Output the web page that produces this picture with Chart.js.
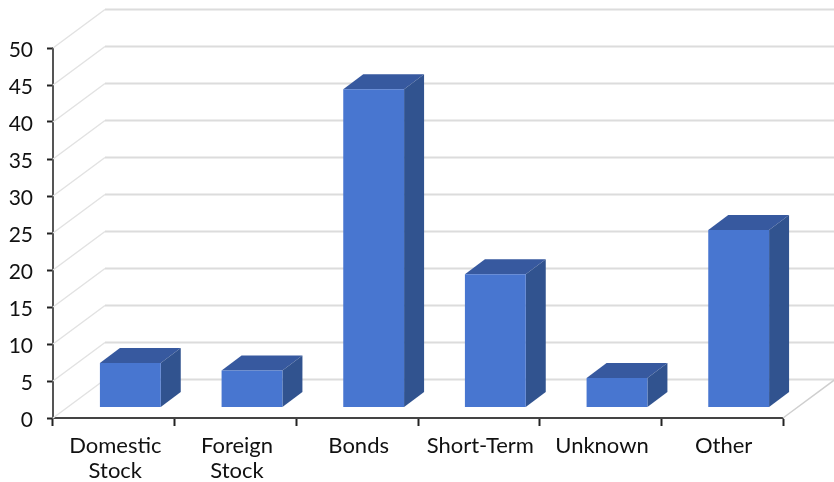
<!DOCTYPE html>
<html>
<head>
<meta charset="utf-8">
<title>Holdings</title>
<script src="https://cdn.jsdelivr.net/npm/chart.js@4"></script>
<style>
  html, body { margin: 0; padding: 0; background: #fff; }
  canvas { display: block; }
</style>
</head>
<body>
<canvas id="myChart" width="834" height="482"></canvas>
<script>
const categories = [['Domestic', 'Stock'], ['Foreign', 'Stock'], 'Bonds', 'Short-Term', 'Unknown', 'Other'];
const values = [6, 5, 43, 18, 4, 24];
const tickValues = [0, 5, 10, 15, 20, 25, 30, 35, 40, 45, 50];

// depth of the fake 3D box
const WALL_DX = 52, WALL_DY = -38.5;
const BAR_DX = 16.5, BAR_DY = -10.5;
const SIDE_DX = 20, SIDE_DY = -15;

const fontName = 'Lato, "Open Sans", sans-serif';
const textColor = '#111';

function line(ctx, x1, y1, x2, y2) {
    ctx.beginPath();
    ctx.moveTo(x1, y1);
    ctx.lineTo(x2, y2);
    ctx.stroke();
}

function poly(ctx, pts, color) {
    ctx.fillStyle = color;
    ctx.beginPath();
    pts.forEach((p, i) => i ? ctx.lineTo(p[0], p[1]) : ctx.moveTo(p[0], p[1]));
    ctx.closePath();
    ctx.fill();
}

const box3d = {
    id: 'box3d',
    beforeDatasetsDraw(chart) {
        const { ctx, chartArea: a, scales: { y } } = chart;
        ctx.save();
        tickValues.forEach(v => {
            const py = y.getPixelForValue(v);
            // side wall / floor diagonal, then the back wall line
            ctx.lineWidth = 1.5;
            ctx.strokeStyle = '#e2e2e2';
            line(ctx, a.left, py, a.left + WALL_DX, py + WALL_DY);
            ctx.lineWidth = 2;
            ctx.strokeStyle = '#dcdcdc';
            line(ctx, a.left + WALL_DX, py + WALL_DY, a.right + WALL_DX, py + WALL_DY);
        });
        ctx.lineWidth = 1.5;
        ctx.strokeStyle = '#cfcfcf';
        line(ctx, a.right, a.bottom, a.right + WALL_DX, a.bottom + WALL_DY);
        ctx.restore();
    },
    beforeDatasetDraw(chart, args) {
        const { ctx } = chart;
        ctx.save();
        ctx.translate(BAR_DX, BAR_DY);
        args.meta.data.forEach(bar => {
            const l = bar.x - bar.width / 2, r = bar.x + bar.width / 2;
            poly(ctx, [[l, bar.y], [r, bar.y], [r + SIDE_DX, bar.y + SIDE_DY], [l + SIDE_DX, bar.y + SIDE_DY]], '#37599f');
            poly(ctx, [[r, bar.y], [r + SIDE_DX, bar.y + SIDE_DY], [r + SIDE_DX, bar.base + SIDE_DY], [r, bar.base]], '#31538f');
        });
    },
    afterDatasetDraw(chart) {
        chart.ctx.restore();
    }
};

new Chart(document.getElementById('myChart'), {
    type: 'bar',
    data: {
        labels: categories,
        datasets: [{
            data: values,
            backgroundColor: '#4876d0',
            borderWidth: 0,
            clip: false,
            barPercentage: 0.5,
            categoryPercentage: 1
        }]
    },
    options: {
        responsive: false,
        animation: false,
        layout: { padding: { top: 48, right: 51, left: 0, bottom: 0 } },
        plugins: { legend: { display: false }, tooltip: { enabled: false } },
        scales: {
            x: {
                afterFit: s => { s.height = 64; },
                grid: { drawOnChartArea: false, tickLength: 8, tickColor: '#222', tickWidth: 2 },
                border: { color: '#444', width: 2 },
                ticks: { color: textColor, font: { family: fontName, size: 22, lineHeight: 1.12 }, maxRotation: 0, autoSkip: false, padding: 8, labelOffset: 1.5 }
            },
            y: {
                min: 0,
                max: 50,
                afterFit: s => { s.width = 53; },
                afterBuildTicks: s => { s.ticks = tickValues.map(v => ({ value: v })); },
                grid: { drawOnChartArea: false, tickLength: 6, tickColor: '#222', tickWidth: 2 },
                border: { color: '#555', width: 2 },
                ticks: { color: textColor, font: { family: fontName, size: 21 }, padding: 14, labelOffset: 2 }
            }
        }
    },
    plugins: [box3d]
});
</script>
</body>
</html>
